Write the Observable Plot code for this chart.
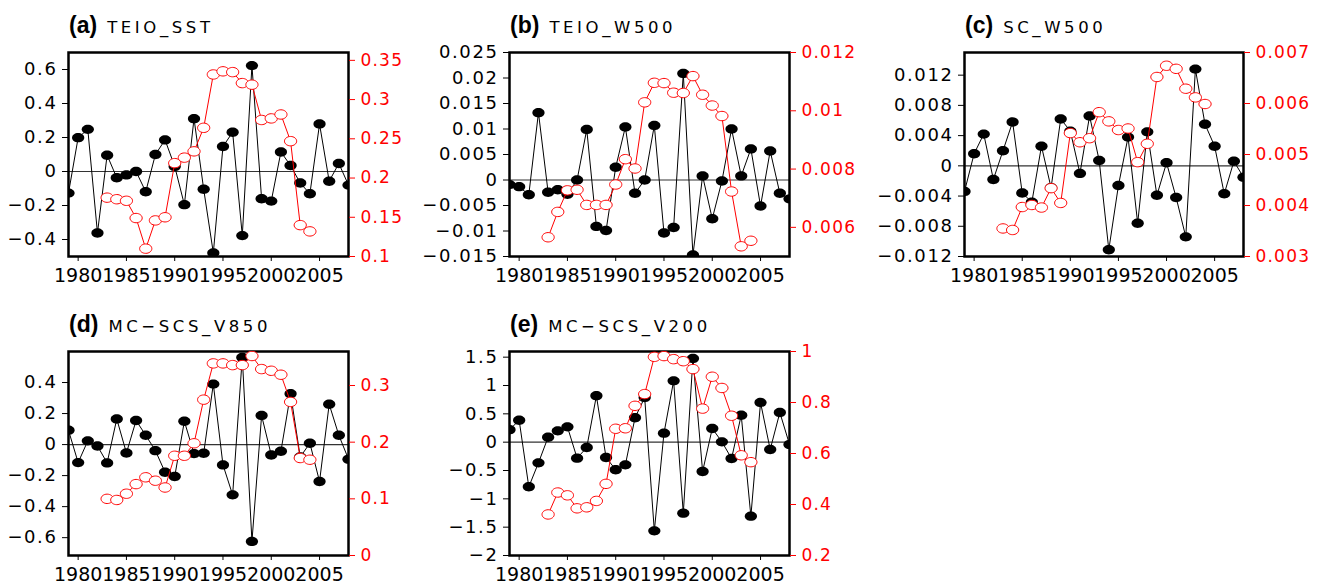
<!DOCTYPE html>
<html><head><meta charset="utf-8">
<script src="https://cdn.jsdelivr.net/npm/d3@7"></script>
<script src="https://cdn.jsdelivr.net/npm/@observablehq/plot@0.6"></script>
<style>
body{margin:0;background:#fff;width:1323px;height:585px;overflow:hidden;position:relative;font-family:"DejaVu Sans",sans-serif}
.panel{position:absolute}
.panel svg{position:absolute;left:0;top:0}
.title{position:absolute;white-space:nowrap;color:#000;line-height:22px}
.title b{font-family:"Liberation Sans",Arial,sans-serif;font-size:23px;font-weight:bold}
.title span{font-family:"DejaVu Sans",sans-serif;font-size:16.5px;letter-spacing:3.6px;margin-left:10px}
svg.L g[aria-label="y-axis tick label"]{letter-spacing:1.6px}
svg.R g[aria-label="y-axis tick label"]{letter-spacing:1.2px}
</style></head><body>
<script>
const years = [1979,1980,1981,1982,1983,1984,1985,1986,1987,1988,1989,1990,1991,1992,1993,1994,1995,1996,1997,1998,1999,2000,2001,2002,2003,2004,2005,2006,2007,2008];
const redYears = [1983,1984,1985,1986,1987,1988,1989,1990,1991,1992,1993,1994,1995,1996,1997,1998,1999,2000,2001,2002,2003,2004];
const xTicks = [1980,1985,1990,1995,2000,2005];

const teioSST = [-0.127,0.199,0.248,-0.362,0.096,-0.037,-0.020,0.0,-0.119,0.10,0.186,0.03,-0.195,0.311,-0.104,-0.479,0.147,0.231,-0.377,0.623,-0.16,-0.174,0.115,0.035,-0.068,-0.131,0.279,-0.057,0.047,-0.08];
const teioSSTRed = [0.175,0.173,0.171,0.149,0.110,0.146,0.150,0.219,0.226,0.234,0.264,0.332,0.336,0.335,0.321,0.319,0.274,0.276,0.281,0.247,0.140,0.132];

const teioW500 = [-0.0009,-0.0013,-0.0029,0.0132,-0.0024,-0.0019,-0.0028,0.0,0.0099,-0.0091,-0.0099,0.0025,0.0104,-0.0026,0.0,0.0107,-0.0104,-0.0093,0.0209,-0.0147,0.0008,-0.0076,-0.0002,0.0100,0.0008,0.0061,-0.0051,0.0057,-0.0026,-0.0037];
const teioW500Red = [0.00566,0.00653,0.00727,0.00729,0.00677,0.00677,0.00677,0.00747,0.00834,0.00802,0.01029,0.01096,0.01095,0.01062,0.01061,0.01119,0.01055,0.01018,0.00982,0.00723,0.00535,0.00554];

const scW500 = [-0.0034,0.0016,0.0042,-0.0018,0.0020,0.0058,-0.0036,-0.0048,0.0026,-0.0029,0.0062,0.0046,-0.0010,0.0066,0.0007,-0.0111,-0.0026,0.0038,-0.0076,0.0045,-0.0039,0.0004,-0.0042,-0.0094,0.0128,0.0055,0.0026,-0.0037,0.0006,-0.0015];
const scW500Red = [0.00355,0.00352,0.00397,0.00401,0.00396,0.00434,0.00405,0.00542,0.00524,0.00532,0.00583,0.00565,0.00548,0.00551,0.00485,0.00521,0.00652,0.00674,0.00668,0.00629,0.00612,0.00599];

const mcV850 = [0.092,-0.116,0.024,-0.009,-0.118,0.165,-0.054,0.155,0.060,-0.039,-0.178,-0.206,0.150,-0.058,-0.056,0.390,-0.131,-0.324,0.562,-0.624,0.187,-0.067,-0.043,0.328,-0.080,0.009,-0.238,0.260,0.060,-0.094];
const mcV850Red = [0.100,0.098,0.109,0.126,0.138,0.132,0.120,0.176,0.176,0.198,0.275,0.339,0.339,0.336,0.336,0.352,0.329,0.326,0.319,0.271,0.172,0.169];

const mcV200 = [0.218,0.388,-0.788,-0.365,0.088,0.200,0.270,-0.282,-0.094,0.818,-0.270,-0.488,-0.400,0.430,0.788,-1.565,0.159,1.082,-1.253,1.476,-0.518,0.241,0.006,-0.288,0.476,-1.306,0.700,-0.129,0.524,-0.040];
const mcV200Red = [0.361,0.447,0.436,0.385,0.389,0.414,0.481,0.697,0.699,0.787,0.833,0.979,0.982,0.970,0.962,0.931,0.776,0.901,0.857,0.748,0.593,0.566];

const letters = ["(a)","(b)","(c)","(d)","(e)"];
const names = ["TEIO_SST","TEIO_W500","SC_W500","MC\u2212SCS_V850","MC\u2212SCS_V200"];
const leftTicks = [
  [-0.4,-0.2,0,0.2,0.4,0.6],
  [-0.015,-0.01,-0.005,0,0.005,0.01,0.015,0.02,0.025],
  [-0.012,-0.008,-0.004,0,0.004,0.008,0.012],
  [-0.6,-0.4,-0.2,0,0.2,0.4],
  [-2,-1.5,-1,-0.5,0,0.5,1,1.5]
];
const rightTicks = [
  [0.1,0.15,0.2,0.25,0.3,0.35],
  [0.006,0.008,0.01,0.012],
  [0.003,0.004,0.005,0.006,0.007],
  [0,0.1,0.2,0.3],
  [0.2,0.4,0.6,0.8,1]
];
const leftDomains = [[-0.5,0.7],[-0.015,0.025],[-0.012,0.015],[-0.715,0.6],[-2,1.6]];
const rightDomains = [[0.1,0.36],[0.005,0.012],[0.003,0.007],[0,0.36],[0.2,1.0]];
const blackSeries = [teioSST, teioW500, scW500, mcV850, mcV200];
const redSeries = [teioSSTRed, teioW500Red, scW500Red, mcV850Red, mcV200Red];

// layout: frame left/top positions on the page
const frames = [[68,52,280],[509,52,280],[964,52,279],[68,351,280],[509,351,280]];
const FH = 204, ML = 80, MR = 80, MT = 10, MB = 40;

const ellipse = {
  draw(ctx, size) {
    const r = Math.sqrt(size / Math.PI);
    const rx = r * 1.3, ry = r, k = 0.5523;
    ctx.moveTo(rx, 0);
    ctx.bezierCurveTo(rx, ry * k, rx * k, ry, 0, ry);
    ctx.bezierCurveTo(-rx * k, ry, -rx, ry * k, -rx, 0);
    ctx.bezierCurveTo(-rx, -ry * k, -rx * k, -ry, 0, -ry);
    ctx.bezierCurveTo(rx * k, -ry, rx, -ry * k, rx, 0);
    ctx.closePath();
  }
};
const fmt = d => d === 0 ? "0" : (d < 0 ? "\u2212" : "") + String(Math.abs(d));

for (let i = 0; i < 5; i++) {
  const [fl, ft, fw] = frames[i];
  const W = fw + ML + MR, H = FH + MT + MB;
  const div = document.createElement("div");
  div.className = "panel";
  div.style.left = (fl - ML) + "px";
  div.style.top = (ft - MT) + "px";
  div.style.width = W + "px";
  div.style.height = H + "px";
  document.body.appendChild(div);

  const rows = years.map((year, j) => ({year, v: blackSeries[i][j]}));
  const redRows = redYears.map((year, j) => ({year, v: redSeries[i][j]}));
  const common = {
    width: W, height: H, marginLeft: ML, marginRight: MR, marginTop: MT, marginBottom: MB,
    style: {background: "transparent", overflow: "visible", fontFamily: "DejaVu Sans, sans-serif", color: "black"}
  };

  const left = Plot.plot({
    ...common,
    x: {domain: [1979, 2008]},
    y: {domain: leftDomains[i]},
    marks: [
      Plot.ruleY([0], {stroke: "#333", strokeWidth: 1.2}),
      Plot.line(rows, {x: "year", y: "v", stroke: "black", strokeWidth: 1, clip: true}),
      Plot.dot(rows, {x: "year", y: "v", r: 4.7, symbol: ellipse, fill: "black", stroke: "none", clip: true}),
      Plot.axisY({ticks: leftTicks[i], tickFormat: fmt, tickSize: 6, tickPadding: 5, fontSize: 18, label: null}),
      Plot.axisX({ticks: xTicks, tickFormat: d => String(d), tickSize: 5, tickPadding: 7, fontSize: 19, label: null}),
      Plot.frame({stroke: "black", strokeWidth: 2.5})
    ]
  });
  left.classList.add("L");
  div.appendChild(left);

  const right = Plot.plot({
    ...common,
    x: {domain: [1979, 2008], axis: null},
    y: {domain: rightDomains[i]},
    marks: [
      Plot.line(redRows, {x: "year", y: "v", stroke: "red", strokeWidth: 1, clip: true}),
      Plot.dot(redRows, {x: "year", y: "v", r: 4.7, symbol: ellipse, fill: "white", stroke: "red", strokeWidth: 1, clip: true}),
      Plot.axisY({anchor: "right", ticks: rightTicks[i], tickFormat: fmt, tickSize: 6, tickPadding: 6, fontSize: 17, color: "red", label: null})
    ]
  });
  right.classList.add("R");
  div.appendChild(right);

  const t = document.createElement("div");
  t.className = "title";
  t.style.left = (fl + 1) + "px";
  t.style.top = (ft - 38) + "px";
  t.innerHTML = `<b>${letters[i]}</b><span>${names[i]}</span>`;
  document.body.appendChild(t);
}
</script>
</body></html>
